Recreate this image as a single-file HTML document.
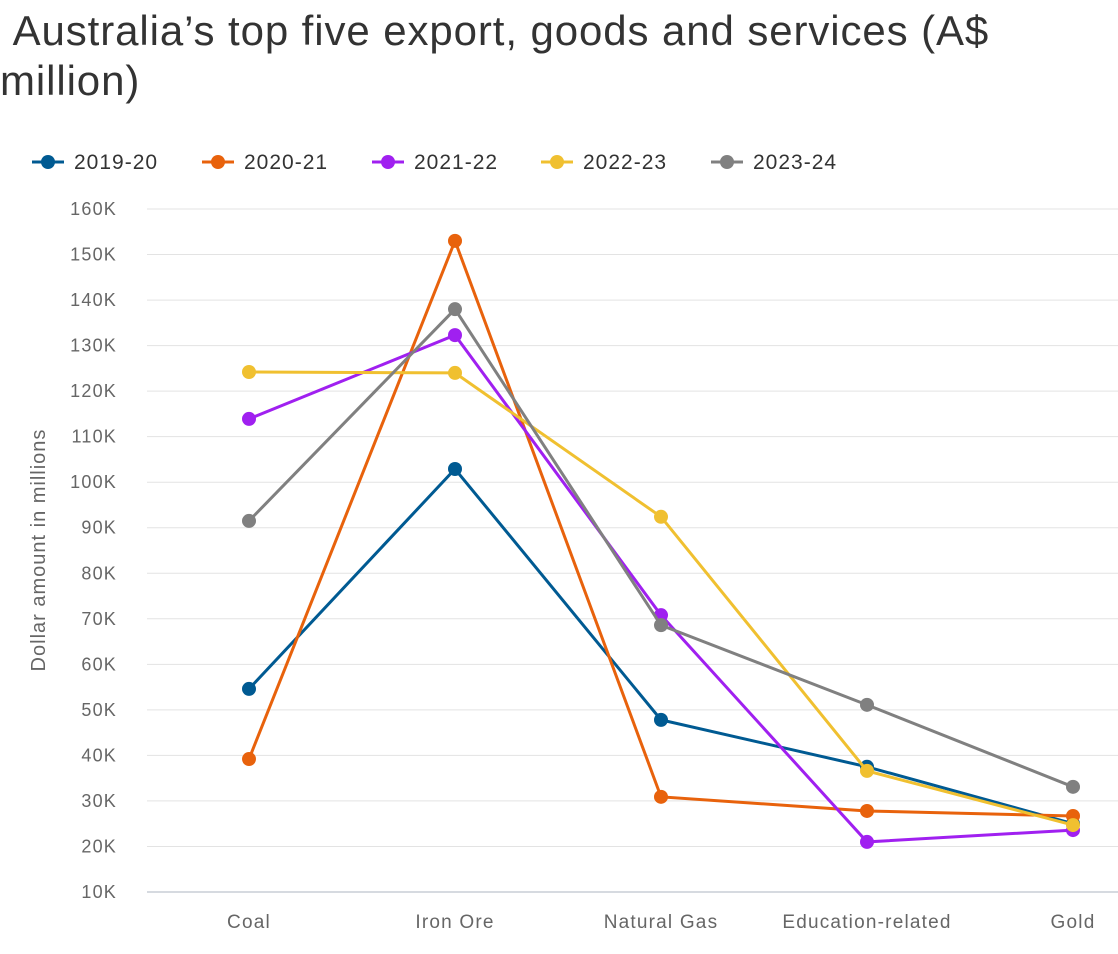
<!DOCTYPE html>
<html><head><meta charset="utf-8"><style>
body{margin:0;background:#fff;width:1118px;height:954px;overflow:hidden;font-family:"Liberation Sans",sans-serif;}
#title{position:absolute;left:0;top:6px;font-size:42px;letter-spacing:0.9px;color:#333;line-height:50px;width:1110px;}
</style></head><body>
<div id="title">&nbsp;Australia’s top five export, goods and services (A$<br>million)</div>
<svg id="chart" width="1118" height="954" style="position:absolute;left:0;top:0"></svg>
<script>
const categories=["Coal","Iron Ore","Natural Gas","Education-related","Gold"];
const seriesNames=["2019-20","2020-21","2021-22","2022-23","2023-24"];
const s2019=[54.6,102.9,47.8,37.5,25];
const s2020=[39.2,153,30.9,27.8,26.7];
const s2021=[113.9,132.3,70.8,21,23.6];
const s2022=[124.2,124,92.4,36.6,24.7];
const s2023=[91.5,138,68.6,51.1,33.1];
const yTicks=[10,20,30,40,50,60,70,80,90,100,110,120,130,140,150,160];
const colors=["#005a92","#e8620c","#a020f0","#f0c030","#808080"];
const allSeries=[s2019,s2020,s2021,s2022,s2023];
const NS="http://www.w3.org/2000/svg";
const svg=document.getElementById('chart');
const y=v=>892-(v-10)*(683/150);
const x=i=>249+i*206;
function mk(t,a,p){const e=document.createElementNS(NS,t);for(const k in a)e.setAttribute(k,a[k]);(p||svg).appendChild(e);return e;}
yTicks.forEach(v=>{
 const l=mk('line',{x1:147,x2:1118,y1:y(v),y2:y(v),stroke:v===10?'#c8cdd6':'#e3e3e3','stroke-width':v===10?1.5:1});
 
 
 const t=mk('text',{x:117,y:y(v)+6,'text-anchor':'end','font-size':18,'letter-spacing':1.2,fill:'#666'});
 t.textContent=v+'K';
 
 
});
categories.forEach((c,i)=>{
 const t=mk('text',{x:x(i),y:928,'text-anchor':'middle','font-size':19,'letter-spacing':1.2,fill:'#666'});
 t.textContent=c;
 
 
});
const at=mk('text',{x:0,y:0,transform:'translate(45,550) rotate(-90)','text-anchor':'middle','font-size':20,'letter-spacing':1,fill:'#666'});
at.textContent='Dollar amount in millions';


allSeries.forEach((s,k)=>{
 const g=mk('g',{});
 
 
 const pl=mk('polyline',{points:s.map((v,i)=>x(i)+','+y(v)).join(' '),fill:'none',stroke:colors[k],'stroke-width':3},g);
 
 
 s.forEach((v,i)=>{
  const c=mk('circle',{cx:x(i),cy:y(v),r:7,fill:colors[k]},g);
  
  
 });
});
const lx=[32,202,372,541,711];
seriesNames.forEach((n,k)=>{
 const g=mk('g',{});
 
 
 mk('line',{x1:lx[k],x2:lx[k]+32,y1:162,y2:162,stroke:colors[k],'stroke-width':3},g);
 mk('circle',{cx:lx[k]+16,cy:162,r:7,fill:colors[k]},g);
 const t=mk('text',{x:lx[k]+42,y:169,'font-size':21,'letter-spacing':1,fill:'#333'},g);
 t.textContent=n;
});
</script>
</body></html>
